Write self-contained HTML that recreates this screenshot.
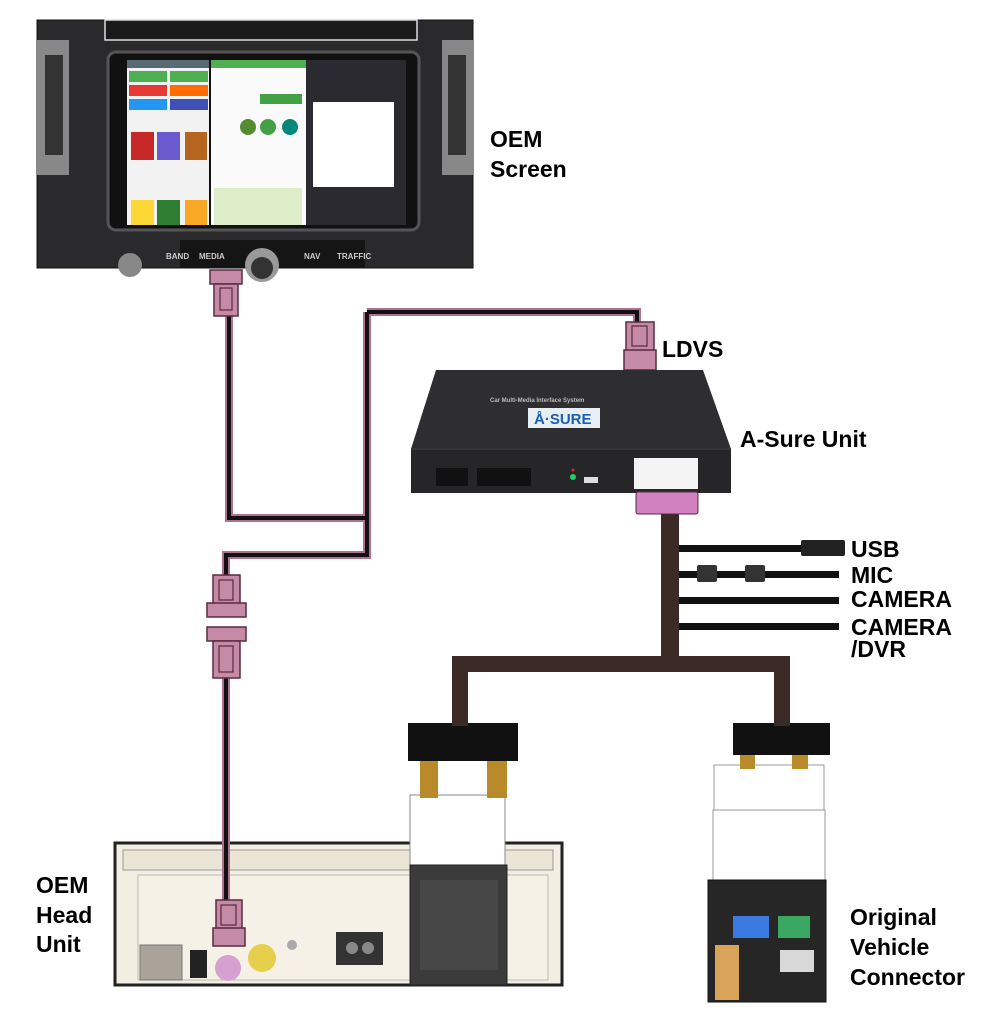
<!DOCTYPE html>
<html><head><meta charset="utf-8"><style>
body{margin:0;background:#fff;}
svg{display:block;}
text{font-family:"Liberation Sans",sans-serif;font-weight:bold;}
</style></head><body>
<svg width="1000" height="1023" viewBox="0 0 1000 1023" xmlns="http://www.w3.org/2000/svg">
<!-- Screen photo -->
<rect x="37" y="20" width="436" height="248" fill="#2a2a2c"/>
<rect x="37" y="20" width="436" height="248" fill="none" stroke="#111" stroke-width="1"/>
<rect x="105" y="20" width="312" height="20" fill="#1a1a1a" stroke="#ddd" stroke-width="1.5"/>
<rect x="37" y="40" width="32" height="135" fill="#888"/>
<rect x="442" y="40" width="31" height="135" fill="#888"/>
<rect x="45" y="55" width="18" height="100" fill="#333"/>
<rect x="448" y="55" width="18" height="100" fill="#333"/>
<rect x="108" y="52" width="311" height="178" rx="8" fill="#111" stroke="#555" stroke-width="3"/>
<rect x="127" y="60" width="82" height="165" fill="#f2f2f2"/>
<rect x="127" y="60" width="82" height="8" fill="#5a6a74"/>
<rect x="129" y="71" width="38" height="11" fill="#4caf50"/><rect x="170" y="71" width="38" height="11" fill="#4caf50"/>
<rect x="129" y="85" width="38" height="11" fill="#e53935"/><rect x="170" y="85" width="38" height="11" fill="#ff6d00"/>
<rect x="129" y="99" width="38" height="11" fill="#2196f3"/><rect x="170" y="99" width="38" height="11" fill="#3f51b5"/>
<rect x="131" y="132" width="23" height="28" fill="#c62828"/><rect x="157" y="132" width="23" height="28" fill="#6a5acd"/><rect x="185" y="132" width="22" height="28" fill="#b5651d"/>
<rect x="131" y="200" width="23" height="25" fill="#fdd835"/><rect x="157" y="200" width="23" height="25" fill="#2e7d32"/><rect x="185" y="200" width="22" height="25" fill="#f9a825"/>
<rect x="211" y="60" width="95" height="165" fill="#fafafa"/>
<rect x="211" y="60" width="95" height="8" fill="#4caf50"/>
<rect x="260" y="94" width="42" height="10" fill="#43a047"/>
<circle cx="248" cy="127" r="8" fill="#558b2f"/><circle cx="268" cy="127" r="8" fill="#43a047"/><circle cx="290" cy="127" r="8" fill="#00897b"/>
<rect x="214" y="188" width="88" height="37" fill="#dcedc8"/>
<rect x="306" y="60" width="100" height="165" fill="#2b2a30"/>
<rect x="313" y="102" width="81" height="85" fill="#fff"/>
<rect x="180" y="240" width="185" height="28" fill="#151515"/>
<text x="166" y="259" font-size="8" fill="#ccc" font-weight="normal">BAND</text>
<text x="199" y="259" font-size="8" fill="#ccc" font-weight="normal">MEDIA</text>
<text x="304" y="259" font-size="8" fill="#ccc" font-weight="normal">NAV</text>
<text x="337" y="259" font-size="8" fill="#ccc" font-weight="normal">TRAFFIC</text>
<circle cx="262" cy="265" r="17" fill="#999"/><circle cx="262" cy="268" r="11" fill="#333"/>
<circle cx="130" cy="265" r="12" fill="#888"/>
<!-- Labels -->
<text x="490" y="147" font-size="23">OEM</text>
<text x="490" y="177" font-size="23">Screen</text>
<text x="662" y="357" font-size="23">LDVS</text>
<text x="740" y="447" font-size="23">A-Sure Unit</text>
<text x="851" y="557" font-size="23">USB</text>
<text x="851" y="583" font-size="23">MIC</text>
<text x="851" y="607" font-size="23">CAMERA</text>
<text x="851" y="635" font-size="23">CAMERA</text>
<text x="851" y="657" font-size="23">/DVR</text>
<text x="36" y="893" font-size="23">OEM</text>
<text x="36" y="923" font-size="23">Head</text>
<text x="36" y="952" font-size="23">Unit</text>
<text x="850" y="925" font-size="23">Original</text>
<text x="850" y="955" font-size="23">Vehicle</text>
<text x="850" y="985" font-size="23">Connector</text>
<!-- Head unit -->
<rect x="115" y="843" width="447" height="142" fill="#f3eee2" stroke="#222" stroke-width="3"/>
<rect x="123" y="850" width="430" height="20" fill="#ebe5d6" stroke="#999"/>
<rect x="138" y="875" width="410" height="105" fill="#f6f1e6" stroke="#bbb"/>
<rect x="140" y="945" width="42" height="35" fill="#aaa39a" stroke="#777"/>
<rect x="190" y="950" width="17" height="28" fill="#222"/>
<circle cx="228" cy="968" r="13" fill="#d6a0d0"/>
<circle cx="262" cy="958" r="14" fill="#e6cf4d"/>
<circle cx="292" cy="945" r="5" fill="#aaa"/>
<rect x="336" y="932" width="47" height="33" fill="#333"/>
<circle cx="352" cy="948" r="6" fill="#888"/><circle cx="368" cy="948" r="6" fill="#888"/>
<!-- Left connector -->
<rect x="410" y="795" width="95" height="75" fill="#fff" stroke="#888"/>
<rect x="410" y="865" width="97" height="120" fill="#3b3b3b" stroke="#222"/>
<rect x="420" y="880" width="78" height="90" fill="#474747"/>
<rect x="408" y="723" width="110" height="38" fill="#111"/>
<rect x="420" y="761" width="18" height="37" fill="#b88a2a"/><rect x="487" y="761" width="20" height="37" fill="#b88a2a"/>
<!-- Right connector -->
<rect x="714" y="765" width="110" height="55" fill="#fff" stroke="#999"/>
<rect x="713" y="810" width="112" height="72" fill="#fff" stroke="#999"/>
<rect x="708" y="880" width="118" height="122" fill="#262626" stroke="#111"/>
<rect x="733" y="916" width="36" height="22" fill="#3b7ae0"/>
<rect x="778" y="916" width="32" height="22" fill="#3aa860"/>
<rect x="715" y="945" width="24" height="55" fill="#d9a45a"/>
<rect x="780" y="950" width="34" height="22" fill="#d8d8d8"/>
<rect x="733" y="723" width="97" height="32" fill="#111"/>
<rect x="740" y="755" width="15" height="14" fill="#b88a2a"/><rect x="792" y="755" width="16" height="14" fill="#b88a2a"/>
<!-- brown harness -->
<g fill="#3b2a26">
<rect x="661" y="512" width="18" height="150"/>
<rect x="452" y="656" width="338" height="16"/>
<rect x="452" y="656" width="16" height="70"/>
<rect x="774" y="656" width="16" height="70"/>
</g>
<g fill="#111">
<rect x="679" y="545" width="125" height="7"/>
<rect x="801" y="540" width="44" height="16" rx="2" fill="#222"/>
<rect x="679" y="571" width="160" height="7"/>
<rect x="697" y="565" width="20" height="17" rx="2" fill="#333"/>
<rect x="745" y="565" width="20" height="17" rx="2" fill="#333"/>
<rect x="679" y="597" width="160" height="7"/>
<rect x="679" y="623" width="160" height="7"/>
</g>
<!-- pink/black cables -->
<g fill="none" stroke-linejoin="miter">
<path d="M229 316 V518 H367 M367 312 V555 H226 V575 M226 678 V905 M367 312 H637 V325" stroke="#b07090" stroke-width="8"/>
<path d="M229 316 V518 H367 M367 312 V555 H226 V575 M226 678 V905 M367 312 H637 V325" stroke="#111" stroke-width="4"/>
</g>
<!-- pink connectors -->
<g fill="#c48aa6" stroke="#5a2a40" stroke-width="1.5">
<rect x="210" y="270" width="32" height="14"/><rect x="214" y="284" width="24" height="32"/>
<rect x="213" y="575" width="27" height="30"/><rect x="207" y="603" width="39" height="14"/>
<rect x="207" y="627" width="39" height="14"/><rect x="213" y="641" width="27" height="37"/>
<rect x="216" y="900" width="26" height="30"/><rect x="213" y="928" width="32" height="18"/>
<rect x="626" y="322" width="28" height="30"/><rect x="624" y="350" width="32" height="20"/>
</g>
<g fill="none" stroke="#5a2a40" stroke-width="1.2">
<rect x="220" y="288" width="12" height="22"/><rect x="219" y="580" width="14" height="20"/><rect x="219" y="646" width="14" height="26"/><rect x="221" y="905" width="15" height="20"/><rect x="632" y="326" width="15" height="20"/>
</g>
<!-- A-Sure unit -->
<polygon points="436,370 703,370 731,449 411,449" fill="#2e2e30"/>
<rect x="411" y="448" width="320" height="45" fill="#262628"/>
<line x1="411" y1="449" x2="731" y2="449" stroke="#444" stroke-width="1"/>
<rect x="528" y="408" width="72" height="20" fill="#e8eef5"/>
<text x="534" y="424" font-size="15" fill="#1a5fb0">Å·SURE</text>
<text x="490" y="402" font-size="6" fill="#bbb" font-weight="normal">Car Multi-Media Interface System</text>
<rect x="436" y="468" width="32" height="18" fill="#111"/>
<rect x="477" y="468" width="54" height="18" fill="#111"/>
<circle cx="573" cy="477" r="3" fill="#2c6"/><circle cx="573" cy="470" r="1.5" fill="#d22"/>
<rect x="584" y="477" width="14" height="6" fill="#ddd"/>
<rect x="634" y="458" width="64" height="31" fill="#f4f4f4"/>
<rect x="636" y="492" width="62" height="22" rx="2" fill="#d180c0" stroke="#5a2a40"/>
</svg>
</body></html>
